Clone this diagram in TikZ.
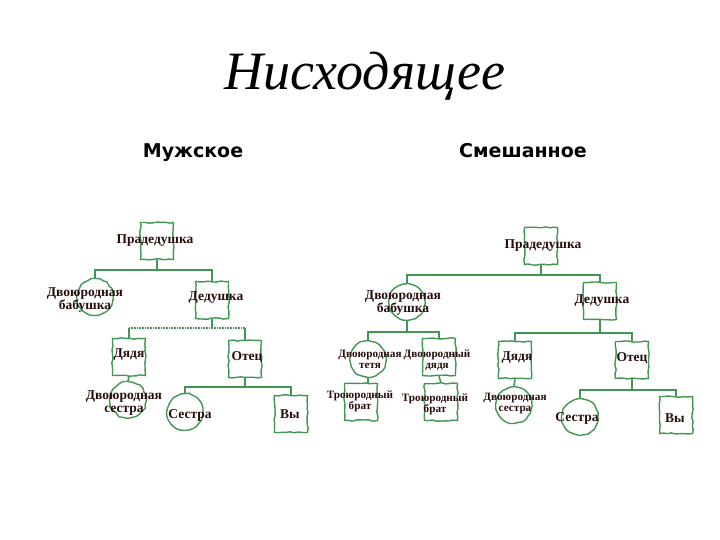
\documentclass[tikz,border=0pt]{standalone}
\usepackage{fontspec}
\setmainfont{Liberation Serif}
\newfontfamily\titlefont{Liberation Serif}
\newfontfamily\headfont{DejaVu Sans}
\usepackage{tikz}
\usetikzlibrary{positioning,decorations.pathmorphing}
\definecolor{tGreen}{RGB}{64,150,82}
\definecolor{tInk}{RGB}{40,12,12}
\tikzset{
  sketch/.style={decorate, decoration={random steps, segment length=4pt, amplitude=0.7pt}},
  sq/.style={rectangle, draw=tGreen, line width=1.4pt, minimum width=33pt,
             minimum height=37pt, inner sep=0pt, sketch},
  rd/.style={circle, draw=tGreen, line width=1.4pt, minimum size=36pt,
             inner sep=0pt, sketch},
  who/.style={font=\bfseries\fontsize{13.5}{13}\selectfont, text=tInk,
              align=center, inner sep=0pt},
  whos/.style={who, font=\bfseries\fontsize{11.2}{11}\selectfont},
  link/.style={draw=tGreen, line width=1.6pt},
  linkd/.style={link, line width=2.6pt, dash pattern=on 0.8pt off 0.8pt},
  head/.style={font=\headfont\bfseries\fontsize{19}{20}\selectfont, anchor=base},
}
\begin{document}
\begin{tikzpicture}[x=1pt, y=-1pt]
  \pgfmathsetseed{7}
  \useasboundingbox (0,0) rectangle (720,540);

  % --- titles ---
  \node[anchor=base, font=\titlefont\itshape\fontsize{54}{56}\selectfont] (title) at (365,90) {Нисходящее};
  \node[head] (hMale) at (193,158) {Мужское};
  \node[head] (hMixed) at (523,158) {Смешанное};

  % --- left tree: male line ---
  \node[sq, label={[who,xshift=-2pt]center:Прадедушка}] (lPra) at (157,241) {};
  \node[rd, label={[who,xshift=-10pt,yshift=-3pt]center:{Двоюродная\\бабушка}}] (lBab) at (95,297) {};
  \node[sq, label={[who,xshift=4pt,yshift=2pt]center:Дедушка}] (lDed) at (212,300) {};
  \node[sq, label={[who,yshift=2pt]center:Дядя}] (lDya) at (129,357) {};
  \node[sq, label={[who,xshift=2pt,yshift=2pt]center:Отец}] (lOte) at (245,359) {};
  \node[rd, label={[who,xshift=-4pt,yshift=-3pt]center:{Двоюродная\\сестра}}] (lSis) at (128,400) {};
  \node[rd, label={[who,xshift=5pt,yshift=-3pt]center:Сестра}] (lSes) at (185,412) {};
  \node[sq, label={[who,xshift=-1pt]center:Вы}] (lYou) at (291,414) {};

  \coordinate (lJa) at (0,270);
  \coordinate (lJb) at (0,328);
  \coordinate (lJc) at (0,387);
  \draw[link] (lPra.south) -- (lPra.south |- lJa);
  \draw[link] (lBab.north) -- (lBab.north |- lJa) -| (lDed.north);
  \draw[link] (lDed.south) -- (lDed.south |- lJb);
  \draw[linkd] (lDya.north |- lJb) -- (lOte.north |- lJb);
  \draw[link] (lDya.north) -- (lDya.north |- lJb);
  \draw[link] (lOte.north) -- (lOte.north |- lJb);
  \draw[link] (lDya.south) -- (lSis.north);
  \draw[link] (lOte.south) -- (lOte.south |- lJc);
  \draw[link] (lSes.north) -- (lSes.north |- lJc) -| (lYou.north);

  % --- right tree: mixed line ---
  \node[sq, label={[who,xshift=2pt]center:Прадедушка}] (rPra) at (541,246) {};
  \node[rd, label={[who,xshift=-4pt,yshift=-1pt]center:{Двоюродная\\бабушка}}] (rBab) at (407,302) {};
  \node[sq, label={[who,xshift=2pt]center:Дедушка}] (rDed) at (600,301) {};
  \node[rd, label={[whos,xshift=2pt]center:{Двоюродная\\тетя}}] (rTet) at (368,359) {};
  \node[sq, label={[whos,xshift=-2pt,yshift=-3pt]center:{Двоюродный\\дядя}}] (rDyd) at (439,357) {};
  \node[sq, label={[whos,xshift=-1pt,yshift=1pt]center:{Троюродный\\брат}}] (rBrA) at (361,402) {};
  \node[sq, label={[whos,xshift=-6pt,yshift=-2pt]center:{Троюродный\\брат}}] (rBrB) at (441,402) {};
  \node[sq, label={[who,xshift=2pt,yshift=2pt]center:Дядя}] (rDya) at (515,360) {};
  \node[sq, label={[who,yshift=2pt]center:Отец}] (rOte) at (632,360) {};
  \node[rd, label={[whos,xshift=1pt,yshift=1pt]center:{Двоюродная\\сестра}}] (rSis) at (514,405) {};
  \node[rd, label={[who,xshift=-3pt,yshift=-1pt]center:Сестра}] (rSes) at (580,417) {};
  \node[sq, label={[who,xshift=-1pt,yshift=-3pt]center:Вы}] (rYou) at (676,415) {};

  \coordinate (rJa) at (0,275);
  \coordinate (rJb) at (0,332);
  \coordinate (rJc) at (0,333);
  \coordinate (rJd) at (0,390);
  \draw[link] (rPra.south) -- (rPra.south |- rJa);
  \draw[link] (rBab.north) -- (rBab.north |- rJa) -| (rDed.north);
  \draw[link] (rBab.south) -- (rBab.south |- rJb);
  \draw[link] (rTet.north) -- (rTet.north |- rJb) -| (rDyd.north);
  \draw[link] (rTet.south) -- (rTet.south |- rBrA.north);
  \draw[link] (rDyd.south) -- (rBrB.north);
  \draw[link] (rDed.south) -- (rDed.south |- rJc);
  \draw[link] (rDya.north) -- (rDya.north |- rJc) -| (rOte.north);
  \draw[link] (rDya.south) -- (rSis.north);
  \draw[link] (rOte.south) -- (rOte.south |- rJd);
  \draw[link] (rSes.north) -- (rSes.north |- rJd) -| (rYou.north);
\end{tikzpicture}
\end{document}
